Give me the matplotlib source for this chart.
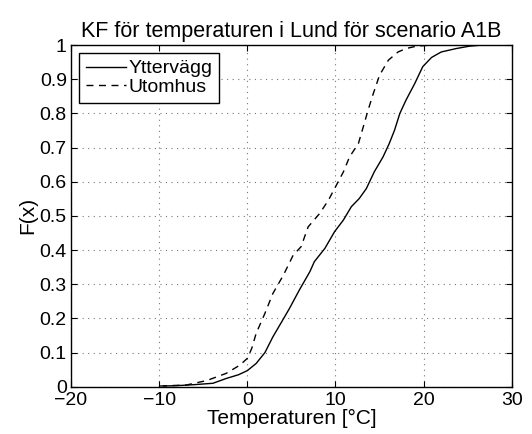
import matplotlib
matplotlib.use('Agg')
import matplotlib.pyplot as plt
from matplotlib.ticker import FuncFormatter

plt.rcParams['font.family'] = ['Liberation Sans', 'DejaVu Sans']

# Yttervägg (solid)
ytter_x = [-9.5, -8.0, -6.0, -3.9, -2.4, -1.0, 0.0, 1.0, 2.0, 2.9, 3.9, 4.8, 5.9,
           7.1, 7.6, 8.8, 9.9, 10.9, 11.8, 12.7, 13.5, 14.4, 15.4, 16.1, 16.7,
           17.3, 18.0, 19.0, 19.9, 20.9, 22.0, 23.7, 25.2, 26.5]
ytter_f = [0.002, 0.003, 0.006, 0.010, 0.024, 0.035, 0.047, 0.068, 0.100, 0.146,
           0.190, 0.230, 0.283, 0.337, 0.366, 0.405, 0.454, 0.488, 0.527, 0.551,
           0.580, 0.629, 0.673, 0.712, 0.751, 0.800, 0.839, 0.888, 0.937, 0.964,
           0.980, 0.990, 0.997, 1.000]

# Utomhus (dashed)
utom_x = [-9.9, -6.9, -4.6, -2.4, -0.85, 0.0, 0.5, 1.0, 2.0, 2.9, 4.1, 5.2, 6.1,
          6.9, 8.2, 9.2, 10.1, 10.9, 11.6, 12.6, 13.1, 13.7, 14.3, 15.0, 16.0,
          17.1, 18.0, 19.2, 20.7]
utom_f = [0.002, 0.005, 0.018, 0.039, 0.063, 0.083, 0.112, 0.156, 0.215, 0.273,
          0.327, 0.385, 0.410, 0.468, 0.507, 0.546, 0.590, 0.629, 0.673, 0.712,
          0.756, 0.810, 0.859, 0.912, 0.956, 0.980, 0.990, 0.997, 1.000]

x_ticks = [-20, -10, 0, 10, 20, 30]
y_ticks = [0, 0.1, 0.2, 0.3, 0.4, 0.5, 0.6, 0.7, 0.8, 0.9, 1]

fig = plt.figure(figsize=(5.32, 4.34), dpi=100)
ax = fig.add_axes([0.1335, 0.109, 0.8285, 0.787])

ax.plot(ytter_x, ytter_f, 'k-', lw=1.0, label='Yttervägg')
ax.plot(utom_x, utom_f, 'k--', lw=1.0, dashes=(5, 4), label='Utomhus')

ax.set_xlim(-20, 30)
ax.set_ylim(0, 1)
ax.set_xticks(x_ticks)
ax.set_yticks(y_ticks)
ax.yaxis.set_major_formatter(FuncFormatter(lambda v, p: '%g' % v))
ax.tick_params(direction='in', top=True, right=True, labelsize=14, length=4, width=0.8)
ax.tick_params(axis='x', pad=4)
ax.tick_params(axis='y', pad=3)
ax.grid(True, linestyle=(0, (1, 4)), color='#777777', lw=0.8)
for s in ax.spines.values():
    s.set_linewidth(1.0)

ax.set_title('KF för temperaturen i Lund för scenario A1B', fontsize=15.5, pad=6)
ax.set_xlabel('Temperaturen [°C]', fontsize=15, labelpad=0)
ax.set_ylabel('F(x)', fontsize=15, labelpad=2)

leg = ax.legend(loc='upper left', fontsize=14, fancybox=False, framealpha=1,
                edgecolor='black', handlelength=2.1, handletextpad=0.1,
                borderpad=0.35, labelspacing=0.05, borderaxespad=0.4)
leg.get_frame().set_linewidth(1.0)

fig.savefig('out.png', dpi=100)
